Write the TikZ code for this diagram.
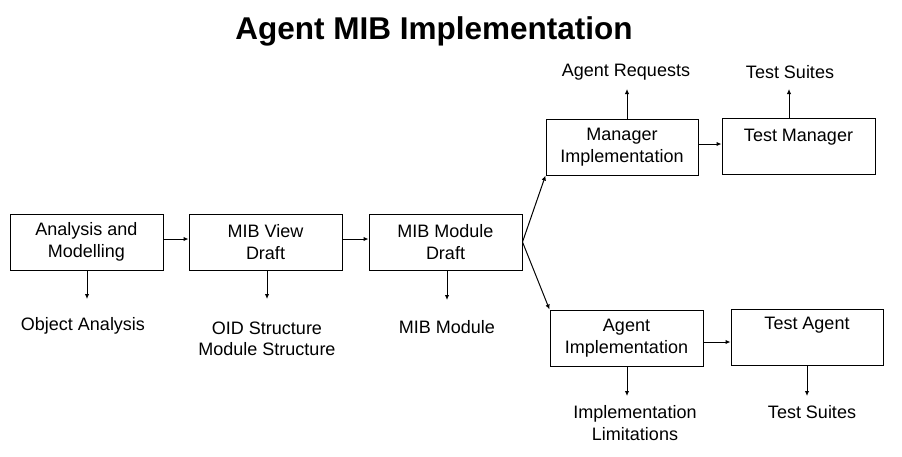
\documentclass[tikz,border=0pt]{standalone}
\usepackage{fontspec}
\setmainfont{Liberation Sans}
\usetikzlibrary{arrows.meta}
\begin{document}
\begin{tikzpicture}[x=1pt,y=-1pt,
  box/.style={draw,line width=1pt,inner sep=0pt,align=center,font=\fontsize{18}{21.5}\selectfont},
  lbl/.style={inner sep=0pt,align=center,font=\fontsize{18}{21.5}\selectfont},
  arr/.style={line width=1pt,-{Latex[length=5pt,width=4.5pt]}}]
\useasboundingbox (0,0) rectangle (902,456);
\node[font=\bfseries\fontsize{31.5}{36}\selectfont,inner sep=0pt] (title) at (434,31) {Agent MIB Implementation};
% boxes
\node[box,minimum width=153pt,minimum height=56pt] (A) at (86.5,242) {Analysis and\\Modelling};
\node[box,minimum width=153pt,minimum height=56pt] (B) at (265.5,242) {MIB View\\Draft};
\node[box,minimum width=153pt,minimum height=56pt] (C) at (445.5,242) {MIB Module\\Draft};
\node[box,minimum width=152pt,minimum height=56pt] (M) at (622,147) {Manager\\Implementation};
\node[box,minimum width=153pt,minimum height=56pt] (TM) at (798.5,146) {};
\node[lbl] (TMt) at (798.5,137) {Test Manager};
\node[box,minimum width=153pt,minimum height=56pt] (AG) at (626.5,338) {Agent\\Implementation};
\node[box,minimum width=152pt,minimum height=56pt] (TA) at (807,337) {};
\node[lbl] (TAt) at (807,325) {Test Agent};
% labels
\node[lbl] (oa) at (83,326) {Object Analysis};
\node[lbl] (oid) at (267,339) {OID Structure\\Module Structure};
\node[lbl] (mm) at (447,327) {MIB Module};
\node[lbl] (il) at (635,423) {Implementation\\Limitations};
\node[lbl] (ts2) at (812,412) {Test Suites};
\node[lbl] (ar) at (626,72) {Agent Requests};
\node[lbl] (ts1) at (790,72) {Test Suites};
% end coordinates
\coordinate (ea) at (87,299);
\coordinate (eb) at (267,299);
\coordinate (ec) at (447,300);
\coordinate (eag) at (627,396);
\coordinate (eta) at (807,396);
\coordinate (em) at (627,89);
\coordinate (etm) at (789,89);
% connectors
\draw[arr] (A.east |- 0,239) -- (B.west |- 0,239);
\draw[arr] (B.east |- 0,239) -- (C.west |- 0,239);
\draw[arr] (C.east) -- (M.south west);
\draw[arr] (C.east) -- (AG.north west);
\draw[arr] (M.east |- 0,144) -- (TM.west |- 0,144);
\draw[arr] (AG.east |- 0,342) -- (TA.west |- 0,342);
\draw[arr] (A.south -| ea) -- (ea);
\draw[arr] (B.south -| eb) -- (eb);
\draw[arr] (C.south -| ec) -- (ec);
\draw[arr] (AG.south -| eag) -- (eag);
\draw[arr] (TA.south -| eta) -- (eta);
\draw[arr] (M.north -| em) -- (em);
\draw[arr] (TM.north -| etm) -- (etm);
\end{tikzpicture}
\end{document}
